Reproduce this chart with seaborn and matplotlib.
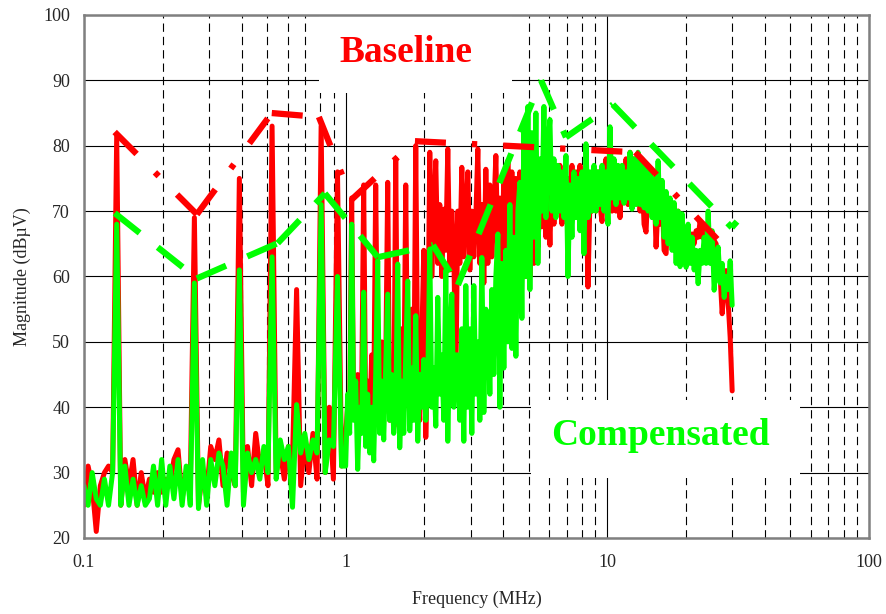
import numpy as np
import pandas as pd
import matplotlib
matplotlib.use("Agg")
import matplotlib.pyplot as plt
from matplotlib.patches import Rectangle
import seaborn as sns

# Conducted-emission sweep: coarse log steps below 1 MHz, fine steps 1 - 30 MHz
freq_mhz = np.concatenate([np.geomspace(0.1, 1, 64, endpoint=False),
                           np.geomspace(1, 30, 194)])

baseline_low = [
    25, 31, 28, 21, 28, 30, 31, 30, 81.5, 25,
    32, 28, 32, 25, 30, 26, 29, 27, 30, 27,
    29, 28, 32, 33.5, 26, 30, 28, 69, 25, 30,
    27, 34, 32, 35, 28, 33, 30, 28, 75, 27,
    34, 28, 36, 31, 33, 28, 83, 30, 33, 29,
    34, 32, 58, 28, 35, 30, 36, 29, 83, 30,
    40, 29, 76, 31,
]
baseline_high = [
    36, 40, 38, 72, 40, 38, 45, 40, 42, 74,
    38, 44, 37, 48, 40, 74, 45, 38, 50, 39,
    46, 74.4, 38, 44, 37, 78, 40, 36, 52, 40,
    74, 42, 39, 55, 40, 80, 44, 38, 50, 64,
    35.4, 48, 79, 60, 70, 77.7, 62, 71, 60, 70.3,
    64, 79.5, 61, 70, 64, 43.5, 70, 62, 76.7, 63,
    70, 76, 61, 70, 63, 69, 79.5, 62, 71, 59,
    76.4, 62, 74, 63, 70, 78.5, 63, 72, 60, 76,
    62, 77.7, 60, 76, 62, 75, 60, 76, 62, 70,
    60, 74, 60, 68, 62, 74, 64.5, 72, 67.6, 76,
    66, 74, 64.8, 76, 68, 75, 70, 77, 68, 76,
    70, 75, 69, 77, 70, 76, 69, 77, 70, 66,
    74, 58.4, 72, 70, 75, 70, 76, 71, 68.4, 76,
    78, 70, 77, 70, 77, 70, 76, 69, 76, 72,
    78, 71, 79, 72, 78, 72, 78, 70, 76, 68,
    66.8, 74, 72, 70, 74, 64.5, 71, 68, 73, 64,
    63.5, 70, 68, 66, 67.5, 65, 70, 66, 68, 64,
    62.7, 66, 64, 66.5, 65, 67, 66, 68.5, 66, 68,
    63, 63, 66, 64, 65.5, 65, 62, 60, 54.3, 58,
    60.9, 56, 50.7, 42.5,
]

compensated_low = [
    28, 25, 30, 26, 25, 29, 25, 30, 68, 25,
    31, 25, 29, 25, 28, 25, 26, 31, 25, 32,
    25, 31, 26, 32, 25, 31, 25, 59, 24.5, 32,
    25, 32, 28, 33, 31, 25, 33, 28, 61, 25,
    33, 30, 32, 29, 34, 30, 63, 29, 35, 32,
    34, 24.7, 40.4, 33, 36, 32, 35, 33, 71, 30,
    35, 34, 60, 31,
]
compensated_high = [
    31, 42, 36, 68, 38, 44, 30.5, 40, 36, 57.6,
    34, 42, 33, 40, 31.8, 45, 62.4, 36, 44, 35,
    46, 57.3, 38, 45, 36, 40, 61.9, 33.8, 44, 36,
    48, 59.3, 36.4, 46, 38, 54, 34.8, 45, 40, 47.3,
    38, 44, 64.2, 40, 46, 37.1, 56.8, 42, 48, 38,
    60.9, 34.8, 50, 57.3, 40, 48, 48, 38, 52, 34.8,
    58.6, 40, 52, 36, 58.6, 42, 50, 38, 62.9, 39.2,
    55, 54, 42, 58, 45, 60, 66.5, 40, 62, 46,
    64, 50, 71, 49, 66, 47.8, 70, 74.4, 53.6, 82.9,
    60, 86, 58, 82, 66, 85, 62, 78, 70, 86,
    69, 80, 84, 70, 78, 69, 77, 70, 76, 69,
    78.5, 60, 74, 66, 76, 69, 75, 67, 76, 63.5,
    80.3, 69, 76, 70, 77, 70, 76, 71, 77, 70,
    76, 68, 82.9, 72, 78, 71, 77, 72, 77, 71.2,
    76, 72, 79, 70.3, 78, 71, 79, 71, 78, 70.5,
    77, 70, 76, 69, 75, 68, 77.7, 69, 74.7, 66,
    73, 65, 72, 64, 71.3, 62, 70, 61.5, 69.6, 64,
    61.4, 68, 62, 66, 61, 64, 58.9, 64, 62, 66,
    62, 70, 62, 67, 57.9, 62, 64.5, 59, 62, 56.8,
    60, 58, 62.4, 55.6,
]

baseline_dbuv = baseline_low + baseline_high
compensated_dbuv = compensated_low + compensated_high

# Peak envelopes (corner frequencies and levels)
baseline_env_mhz = [0.131, 0.27, 0.522, 0.79, 1.056, 1.84, 12.8, 29.0]
baseline_env_dbuv = [82.1, 69.5, 85.0, 84.4, 71.8, 80.7, 79.0, 63.9]
compensated_env_mhz = [0.131, 0.27, 0.55, 0.833, 1.328, 2.156, 2.686,
                       5.58, 6.95, 10.5, 29.9, 31.3]
compensated_env_dbuv = [69.7, 59.7, 65.1, 72.7, 62.95, 64.8, 58.7,
                        90.0, 81.3, 86.3, 67.5, 68.4]

x_ticks = [0.1, 1, 10, 100]
x_tick_labels = ["0.1", "1", "10", "100"]
y_ticks = list(range(20, 101, 10))

RED = "#FF0000"
GREEN = "#00FF00"

sns.set_style("white")
plt.rcParams["font.family"] = ["Liberation Serif", "DejaVu Serif"]

fig = plt.figure(figsize=(8.86, 6.14), dpi=100)
ax = fig.add_axes([0.0948, 0.1238, 0.8860, 0.8518])

spectra = pd.concat([
    pd.DataFrame({"Frequency": freq_mhz, "Magnitude": baseline_dbuv,
                  "trace": "Baseline"}),
    pd.DataFrame({"Frequency": freq_mhz, "Magnitude": compensated_dbuv,
                  "trace": "Compensated"}),
], ignore_index=True)

sns.lineplot(data=spectra, x="Frequency", y="Magnitude", hue="trace",
             hue_order=["Baseline", "Compensated"],
             palette={"Baseline": RED, "Compensated": GREEN},
             estimator=None, sort=False, lw=3.6, legend=False, ax=ax,
             zorder=2)


def envelope_segments(f, v):
    rows = []
    for k in range(len(f) - 1):
        rows.append((f[k], v[k], k))
        rows.append((f[k + 1], v[k + 1], k))
    return pd.DataFrame(rows, columns=["Frequency", "Magnitude", "seg"])


sns.lineplot(data=envelope_segments(baseline_env_mhz, baseline_env_dbuv),
             x="Frequency", y="Magnitude", units="seg", estimator=None,
             sort=False, color=RED, lw=4.5,
             linestyle=(0, (4.96, 4.16, 0.85, 4.16)), legend=False, ax=ax,
             zorder=3)
sns.lineplot(data=envelope_segments(compensated_env_mhz, compensated_env_dbuv),
             x="Frequency", y="Magnitude", units="seg", estimator=None,
             sort=False, color=GREEN, lw=4.5,
             linestyle=(0, (5.1, 3.7)), legend=False, ax=ax, zorder=3)

ax.set_xscale("log")
ax.set_xlim(0.1, 100)
ax.set_ylim(20, 100)
ax.set_xticks(x_ticks)
ax.set_xticklabels(x_tick_labels)
ax.set_yticks(y_ticks)
ax.xaxis.set_minor_locator(matplotlib.ticker.LogLocator(base=10, subs=np.arange(2, 10)))
ax.xaxis.set_minor_formatter(matplotlib.ticker.NullFormatter())

ax.set_axisbelow(True)
ax.grid(which="major", axis="both", color="black", lw=0.8, ls="-")
ax.grid(which="minor", axis="x", color="black", lw=0.8, ls=(0, (7.5, 4.5)))

ax.tick_params(axis="x", which="major", direction="out", length=4.5,
               width=1, color="black", labelsize=13, pad=7)
ax.tick_params(axis="x", which="minor", length=0)
ax.tick_params(axis="y", which="both", length=0, labelsize=13, pad=10)

for side in ax.spines.values():
    side.set_color("#808080")
    side.set_linewidth(1.8)

ax.set_xlabel("Frequency (MHz)", fontsize=13, labelpad=14)
ax.set_ylabel("Magnitude (dBµV)", fontsize=13, labelpad=9)

# White label panels
ax.add_patch(Rectangle((0.300, 0.851), 0.245, 0.16, transform=ax.transAxes,
                       facecolor="white", edgecolor="none", zorder=1))
ax.add_patch(Rectangle((0.569, 0.115), 0.343, 0.149, transform=ax.transAxes,
                       facecolor="white", edgecolor="none", zorder=1))

ax.text(0.410, 0.910, "Baseline", transform=ax.transAxes, ha="center",
        va="baseline", color=RED, fontsize=27, fontweight="bold", zorder=5)
ax.text(0.7337, 0.178, "Compensated", transform=ax.transAxes, ha="center",
        va="baseline", color=GREEN, fontsize=27, fontweight="bold", zorder=5)

fig.savefig("out.png", dpi=100)
